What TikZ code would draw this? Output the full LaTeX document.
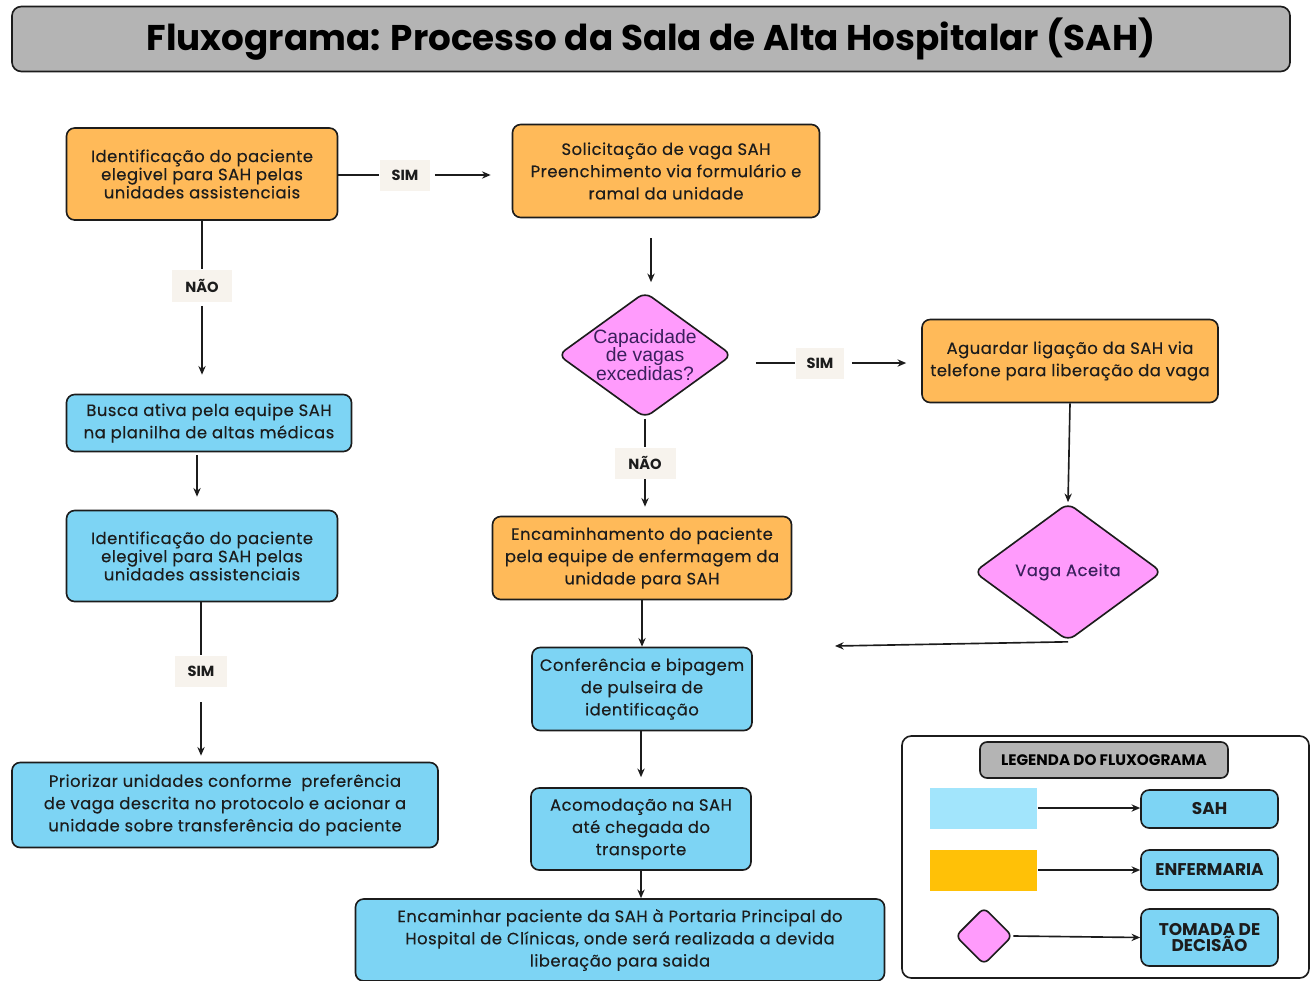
\documentclass[tikz,border=0pt]{standalone}
\usepackage{fontspec}
\setmainfont{Poppins}
\newfontfamily\bodyfont{Poppins}[LetterSpace=3, FakeBold=0.3]
\newfontfamily\arialfont{Liberation Sans}
\usetikzlibrary{arrows.meta, positioning, shapes.geometric, calc}
\definecolor{corange}{HTML}{FFBA59}
\definecolor{cblue}{HTML}{7DD4F4}
\definecolor{cpink}{HTML}{FF9BFC}
\definecolor{cgrey}{HTML}{B4B4B4}
\definecolor{cline}{HTML}{1C1C1C}
\definecolor{ctag}{HTML}{F7F3ED}
\definecolor{cviolet}{HTML}{3A1F5C}
\definecolor{clightblue}{HTML}{A2E5FC}
\definecolor{cgold}{HTML}{FFC107}
\tikzset{
  every picture/.style={line width=1.4pt},
  box/.style={draw=cline, fill=#1, rounded corners=7pt, align=center, inner sep=2pt, text=cline,
    font=\bodyfont\fontsize{14}{19}\selectfont},
  box/.default=cblue,
  tight/.style={font=\bodyfont\fontsize{14}{15.5}\selectfont},
  decision/.style={diamond, draw=cline, fill=cpink, rounded corners=7pt, inner sep=0pt},
  inside/.style={align=center, text=cviolet, inner sep=0pt},
  tag/.style={fill=ctag, font=\bfseries\fontsize{12.5}{14}\selectfont, minimum height=0.93cm, text=cline},
  arrow/.style={-{Stealth[length=2.6mm, width=2.2mm]}, draw=cline},
  link/.style={draw=cline},
  legbox/.style={box, font=\bfseries\fontsize{14.5}{14}\selectfont, minimum width=4.11cm},
}
\begin{document}
\begin{tikzpicture}[x=0.03cm, y=-0.03cm]
  \useasboundingbox (0,0) rectangle (1316,981);
  % title
  \node[draw=cline, fill=cgrey, rounded corners=8pt, minimum width=38.34cm, minimum height=1.95cm,
    font=\bfseries\fontsize{30.5}{34}\selectfont] (title) at (651,39) {Fluxograma: Processo da Sala de Alta Hospitalar (SAH)};
  % left column
  \node[box=corange, tight, minimum width=8.13cm, minimum height=2.76cm] (ident) at (202,174)
    {Identificação do paciente\\ elegivel para SAH pelas\\ unidades assistenciais};
  \node[tag, minimum width=1.8cm, minimum height=0.96cm] (naoA) at (202,286) {NÃO};
  \node[box, minimum width=8.55cm, minimum height=1.71cm] (busca) at (209,423)
    {Busca ativa pela equipe SAH\\ na planilha de altas médicas};
  \node[box, tight, minimum width=8.13cm, minimum height=2.73cm] (identsah) at (202,556)
    {Identificação do paciente\\ elegivel para SAH pelas\\ unidades assistenciais};
  \node[tag, minimum width=1.56cm] (simK) at (201,671) {SIM};
  \node[box, minimum width=12.78cm, minimum height=2.55cm] (prior) at (225,805)
    {Priorizar unidades conforme \ preferência\\ de vaga descrita no protocolo e acionar a\\ unidade sobre transferência do paciente};
  % middle column
  \node[tag, minimum width=1.5cm] (simA) at (405,175) {SIM};
  \node[box=corange, minimum width=9.21cm, minimum height=2.79cm] (solic) at (666,171)
    {Solicitação de vaga SAH\\ Preenchimento via formulário e\\ ramal da unidade};
  \node[decision, minimum width=5.22cm, minimum height=3.78cm] (capac) at (645,355) {};
  \node[inside, font=\arialfont\fontsize{16.5}{15.5}\selectfont] (capactxt) at (capac) {Capacidade\\ de vagas\\ excedidas?};
  \node[tag, minimum width=1.83cm] (naoC) at (645,463) {NÃO};
  \node[box=corange, minimum width=8.97cm, minimum height=2.49cm] (encam) at (642,558)
    {Encaminhamento do paciente\\ pela equipe de enfermagem da\\ unidade para SAH};
  \node[box, minimum width=6.6cm, minimum height=2.49cm] (confer) at (642,689)
    {Conferência e bipagem\\ de pulseira de\\ identificação};
  \node[box, minimum width=6.6cm, minimum height=2.46cm] (acomod) at (641,829)
    {Acomodação na SAH\\ até chegada do\\ transporte};
  \node[box, minimum width=15.87cm, minimum height=2.46cm] (portaria) at (620,940)
    {Encaminhar paciente da SAH à Portaria Principal do\\ Hospital de Clínicas, onde será realizada a devida\\ liberação para saida};
  % right column
  \node[tag, minimum width=1.44cm] (simC) at (820,363) {SIM};
  \node[box=corange, minimum width=8.88cm, minimum height=2.49cm] (aguard) at (1070,361)
    {Aguardar ligação da SAH via\\ telefone para liberação da vaga};
  \node[decision, minimum width=5.64cm, minimum height=4.14cm] (aceita) at (1068,572) {};
  \node[inside, font=\bodyfont\fontsize{14}{15}\selectfont] (aceitatxt) at (aceita) {Vaga Aceita};
  \coordinate (retorno) at (835,646);
  % connectors
  \draw[link] (ident.east |- simA) -- (simA.west);
  \draw[arrow, shorten <=0.12cm, shorten >=0.63cm] (simA.east) -- (simA.east -| solic.west);
  \draw[link] (ident.south -| naoA) -- (naoA.north);
  \draw[arrow, shorten <=0.09cm, shorten >=0.57cm] (naoA.south) -- (naoA.south |- busca.north);
  \draw[arrow, shorten <=0.09cm, shorten >=0.39cm] (busca.south -| 197,0) -- (identsah.north -| 197,0);
  \draw[link] (identsah.south -| simK) -- (simK.north);
  \draw[arrow, shorten <=0.45cm, shorten >=0.18cm] (simK.south) -- (simK.south |- prior.north);
  \draw[arrow, shorten <=0.6cm, shorten >=0.27cm] (solic.south -| 651,0) -- (capac.north -| 651,0);
  \draw[link, shorten <=0.69cm] (capac.east |- simC) -- (simC.west);
  \draw[arrow, shorten <=0.21cm, shorten >=0.45cm] (simC.east) -- (simC.east -| aguard.west);
  \draw[arrow] (aguard.south) -- (aceita.north);
  \draw[arrow] (aceita.south) -- (retorno);
  \draw[link] (capac.south) -- (naoC.north);
  \draw[arrow, shorten >=0.27cm] (naoC.south) -- (naoC.south |- encam.north);
  \draw[arrow] (encam.south) -- (encam.south |- confer.north);
  \draw[arrow, shorten >=0.3cm] (confer.south -| acomod) -- (acomod.north);
  \draw[arrow] (acomod.south) -- (acomod.south |- portaria.north);
  % legend
  \node[draw=cline, fill=white, rounded corners=8pt, minimum width=12.21cm, minimum height=7.26cm] (legenda) at (1105.5,857) {};
  \node[draw=cline, fill=cgrey, rounded corners=6pt, minimum width=7.44cm, minimum height=1.08cm,
    font=\bfseries\fontsize{13}{14}\selectfont] (legtitle) at (1104,760) {LEGENDA DO FLUXOGRAMA};
  \node[fill=clightblue, minimum width=3.21cm, minimum height=1.23cm] (legsah) at (983.5,808) {};
  \node[fill=cgold, minimum width=3.21cm, minimum height=1.23cm] (legenf) at (983.5,870) {};
  \node[decision, minimum width=1.71cm, minimum height=1.71cm, rounded corners=5pt] (legdec) at (984,936) {};
  \node[legbox, minimum height=1.14cm] (boxsah) at (1209.5,809) {SAH};
  \node[legbox, minimum height=1.2cm] (boxenf) at (1209.5,870) {ENFERMARIA};
  \node[legbox, minimum height=1.71cm, font=\bfseries\fontsize{14.5}{14}\selectfont] (boxdec) at (1209.5,937.5) {TOMADA DE\\ DECISÃO};
  \draw[arrow] (legsah.east) -- (legsah.east -| boxsah.west);
  \draw[arrow] (legenf.east) -- (legenf.east -| boxenf.west);
  \draw[arrow] (legdec.east) -- (boxdec.west);
\end{tikzpicture}
\end{document}
